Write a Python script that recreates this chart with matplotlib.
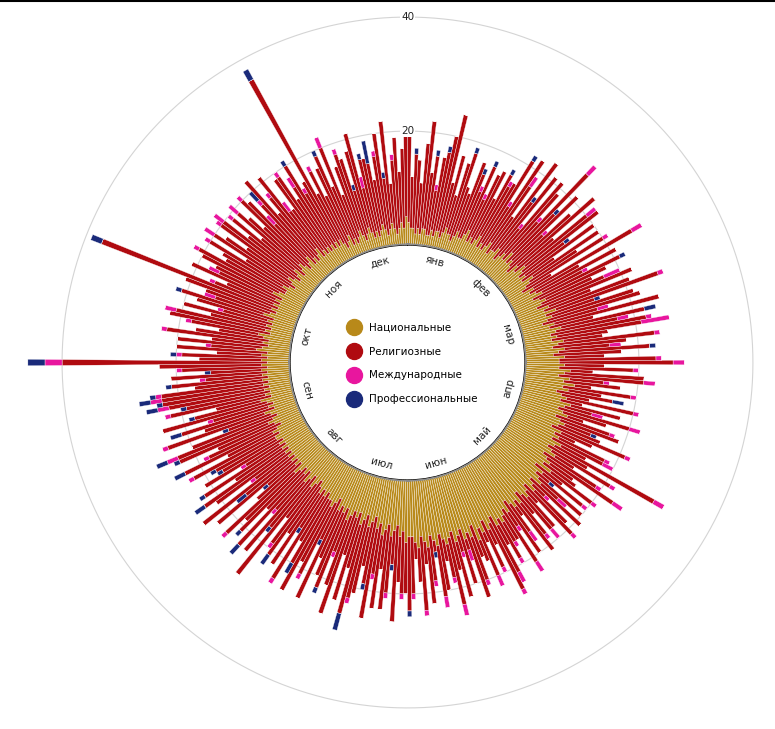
import numpy as np
import matplotlib
matplotlib.use("Agg")
import matplotlib.pyplot as plt
from matplotlib.lines import Line2D

months = ["янв", "фев", "мар", "апр", "май", "июн", "июл", "авг", "сен", "окт", "ноя", "дек"]
month_days = [31, 29, 31, 30, 31, 30, 31, 31, 30, 31, 30, 31]
categories = ["Национальные", "Религиозные", "Международные", "Профессиональные"]
colors = ["#B8891A", "#B00B10", "#E8169E", "#1A2A7A"]
grid_values = [20, 40]

national = [
    4,3,3,2,3,2,3,3,2,2,3,2,3,3,2,3,4,3,3,2,3,4,3,3,4,5,3,4,3,4,5,
    3,4,3,4,5,3,4,4,5,3,4,5,4,6,4,5,4,3,5,4,6,5,4,5,4,6,5,4,3,
    5,4,5,6,4,5,6,5,4,6,5,7,5,6,5,4,6,5,7,6,5,6,5,7,6,5,7,6,5,7,6,
    6,7,6,8,7,6,8,7,9,7,8,6,7,8,7,9,8,7,8,9,7,8,9,8,7,9,8,9,8,10,
    9,8,9,10,8,9,10,9,11,8,10,9,10,11,9,10,11,9,10,11,10,9,11,10,11,10,9,11,10,11,12,
    11,12,10,11,12,10,12,11,13,10,12,11,12,10,11,12,10,11,12,11,10,12,11,10,12,11,10,12,11,10,
    10,11,9,10,8,9,10,8,9,10,8,9,7,8,9,7,8,9,7,8,7,8,9,7,8,7,8,6,7,8,7,
    7,6,7,6,7,6,5,6,7,5,6,7,5,6,5,6,7,5,6,5,6,5,6,5,6,5,6,5,6,5,6,
    6,5,6,5,4,5,6,5,4,5,6,4,5,4,5,6,4,5,4,5,4,5,4,5,4,5,4,5,4,5,
    4,5,4,5,4,6,5,4,5,4,5,6,4,5,4,5,4,5,4,6,5,4,5,4,5,4,5,4,6,5,4,
    4,5,4,3,4,5,4,3,4,5,3,4,5,4,3,4,5,3,4,3,4,5,3,4,3,4,3,4,3,4,
    3,4,3,2,3,4,2,3,2,3,4,3,2,3,4,3,2,3,2,3,4,3,2,3,4,3,2,3,4,3,5,
]
religious = [
    15,9,13,13,8,16,19,10,14,8,13,15,17,21,10,14,6,13,15,10,8,13,12,9,13,6,13,13,9,13,10,
    13,17,9,18,12,8,19,11,16,7,17,14,9,19,12,16,8,15,18,9,14,17,10,15,7,14,10,16,6,
    20,10,16,8,17,13,9,12,18,8,16,19,9,15,17,10,19,8,15,11,17,15,10,7,17,13,8,16,12,7,17,
    20,7,13,4,14,15,6,10,3,12,6,10,5,12,4,9,5,13,8,3,10,11,5,8,14,6,4,9,10,5,
    20,8,12,4,11,14,5,7,9,6,9,3,10,4,12,3,8,12,3,7,8,5,7,11,2,6,11,3,11,5,4,
    8,4,11,13,3,9,2,9,4,6,8,12,2,10,3,10,7,12,6,4,10,9,2,8,10,4,13,6,3,10,
    13,9,11,8,17,6,10,15,7,13,9,16,12,8,12,15,17,8,16,7,19,13,6,15,12,10,17,8,14,11,18,
    13,10,17,8,15,10,16,13,7,22,11,16,9,17,10,15,12,18,9,7,17,11,19,8,15,18,10,17,7,16,11,
    12,17,9,18,14,11,17,18,16,8,18,13,16,11,19,12,10,17,15,17,19,18,19,12,17,10,17,9,15,18,
    36,11,15,8,16,8,15,10,17,13,8,12,18,16,11,15,9,13,17,9,12,17,32,12,9,17,11,13,14,16,12,
    13,15,9,17,14,9,16,17,11,14,10,15,12,10,17,15,8,14,18,11,13,16,10,9,16,15,11,12,17,10,
    13,32,10,15,9,13,17,10,18,8,12,15,15,8,14,18,9,13,14,12,8,13,18,9,18,8,13,16,9,14,14,
]
international = [
    1,0,0,0,0,0,0,0,0,1,0,0,0,0,0,0,0,0,0,0,0,0,0,1,0,1,0,0,0,0,1,
    0,0,1,0,2,0,0,0,0,1,0,0,1,2,0,0,1,0,0,0,2,0,0,0,0,0,0,1,0,
    2,0,0,1,0,0,0,3,0,0,0,1,0,0,0,2,0,0,0,2,1,5,0,0,1,0,2,0,0,0,1,
    2,0,1,0,0,2,1,0,0,1,0,0,0,1,0,0,2,2,0,0,1,0,0,0,1,0,0,1,2,0,
    2,0,1,0,1,2,0,0,1,0,1,0,0,2,0,1,0,1,0,0,2,0,1,0,0,2,0,1,2,0,1,
    1,0,2,1,0,1,0,2,0,0,1,0,2,0,1,0,0,2,1,0,0,2,0,1,0,0,1,0,0,1,
    0,0,1,0,0,0,1,0,0,0,1,0,0,0,0,1,0,0,0,0,0,0,1,0,0,0,0,0,1,0,0,
    0,0,1,0,0,0,0,1,0,0,0,0,1,0,0,0,0,1,0,0,0,0,0,1,0,0,0,0,1,0,0,
    0,1,0,0,1,0,0,2,0,0,1,0,0,1,0,0,0,1,0,2,0,2,1,0,0,1,0,0,1,0,
    3,0,1,0,0,1,0,0,1,0,0,1,0,2,0,0,1,0,0,2,0,0,0,1,0,0,2,0,0,1,0,
    0,1,0,2,0,0,1,2,0,1,0,2,0,0,1,0,2,1,0,0,1,0,2,0,0,1,0,2,0,1,
    0,0,0,1,0,0,0,0,2,0,0,1,0,0,0,0,2,0,0,0,0,1,0,0,0,0,1,0,0,0,1,
]
professional = [
    0,0,1,0,0,0,0,0,1,0,0,1,0,0,0,0,0,0,1,0,0,0,1,0,1,0,0,0,0,1,0,
    0,1,0,0,0,0,0,1,0,0,0,0,0,0,1,0,0,0,0,0,0,0,1,0,0,0,0,0,0,
    0,0,0,0,1,0,0,0,0,0,0,0,1,0,0,0,0,0,2,0,0,0,0,0,0,0,0,1,0,0,0,
    0,0,0,0,0,0,0,0,0,0,0,2,0,0,0,0,0,0,0,0,0,0,1,0,0,0,0,0,0,0,
    0,0,0,0,0,0,0,0,0,0,0,1,0,0,0,0,0,0,0,0,0,0,0,0,0,0,0,0,0,0,0,
    0,0,0,0,0,0,0,0,0,0,0,0,0,0,0,0,0,0,0,0,0,0,1,0,0,0,0,0,0,0,
    1,0,0,0,0,1,0,0,0,0,0,0,1,0,0,0,3,0,0,0,0,0,0,1,0,0,0,1,0,0,0,
    2,0,0,1,0,0,2,0,0,0,1,0,0,2,0,1,0,0,0,1,0,2,0,0,0,2,0,1,0,0,1,
    1,0,0,2,0,0,1,2,0,1,0,0,2,0,0,1,0,0,1,2,1,2,1,0,1,0,0,1,0,0,
    3,0,1,0,0,0,0,0,0,0,0,0,0,0,0,0,0,0,1,0,0,0,2,0,0,0,0,0,0,0,0,
    0,0,0,0,0,0,0,0,0,0,0,0,0,0,0,0,0,2,0,0,0,0,0,0,0,0,0,0,1,0,
    0,2,0,0,0,0,1,0,0,0,0,0,0,1,0,0,0,1,0,4,0,0,0,1,0,0,0,0,0,0,0,
]

series = [np.array(national, float), np.array(religious, float),
          np.array(international, float), np.array(professional, float)]
n_days = sum(month_days)
step = 2 * np.pi / n_days
theta = (np.arange(n_days) + 0.5) * step

W, H = 775, 729
cx, cy = 407.5, 362.5
px_per_unit = 5.7
r_origin = -20.6
r_max = 43.0
R = (r_max - r_origin) * px_per_unit

fig = plt.figure(figsize=(W / 100, H / 100), dpi=100)
ax = fig.add_axes([(cx - R) / W, (H - cy - R) / H, 2 * R / W, 2 * R / H], projection="polar")
ax.set_theta_zero_location("N")
ax.set_theta_direction(-1)
ax.set_rorigin(r_origin)
ax.set_ylim(0, r_max)
ax.set_xticks([])
ax.set_yticks([])
ax.grid(False)
for s in ax.spines.values():
    s.set_visible(False)
ax.patch.set_alpha(0)

# grid circles
tt = np.linspace(0, 2 * np.pi, 720)
for g in grid_values:
    ax.plot(tt, np.full_like(tt, g), color="#d4d4d4", lw=0.8, zorder=0.5, clip_on=False)
    ax.text(0, g, str(g), ha="center", va="center", fontsize=7.5, color="#222222", zorder=5,
            bbox=dict(facecolor="white", edgecolor="none", pad=0.8), clip_on=False)

# stacked bars
bottom = np.zeros(n_days)
for vals, col in zip(series, colors):
    ax.bar(theta, vals, width=step, bottom=bottom, color=col, edgecolor="white",
           linewidth=0.25, zorder=2, clip_on=False)
    bottom = bottom + vals

# inner ring with day and month ticks
edges = np.arange(n_days) * step
ax.vlines(edges, -0.9, 0, colors="black", lw=0.7, zorder=3)
ax.plot(tt, np.full_like(tt, 0.1), color="#8c8c8c", lw=1.6, zorder=3)
cum = np.cumsum([0] + month_days[:-1])
ax.vlines(cum * step, -1.7, 0, colors="#555555", lw=1.0, zorder=3)
ax.vlines([0, np.pi / 2, np.pi, 3 * np.pi / 2], -0.9, 0.4, colors="#888888", lw=2.6, zorder=3)

# month labels
for name, start, nd in zip(months, cum, month_days):
    th = (start + nd / 2) * step
    deg = np.degrees(th)
    rot = 180 - deg if 90 < deg < 270 else -deg
    ax.text(th, -2.3, name, rotation=rot, rotation_mode="anchor", ha="center", va="center",
            fontsize=7.5, color="#222222", zorder=4)

handles = [Line2D([0], [0], marker="o", linestyle="none", markersize=11.5,
                  markerfacecolor=c, markeredgecolor=c) for c in colors]
fig.legend(handles, categories, loc="center", bbox_to_anchor=(413 / W, 1 - 363.5 / H),
           frameon=False, fontsize=7.5, labelspacing=1.33, handletextpad=0.85,
           handlelength=1.2)

fig.add_artist(Line2D([0, 1], [0.999, 0.999], color="black", lw=1.5, transform=fig.transFigure))

fig.savefig("out.png", dpi=100)
